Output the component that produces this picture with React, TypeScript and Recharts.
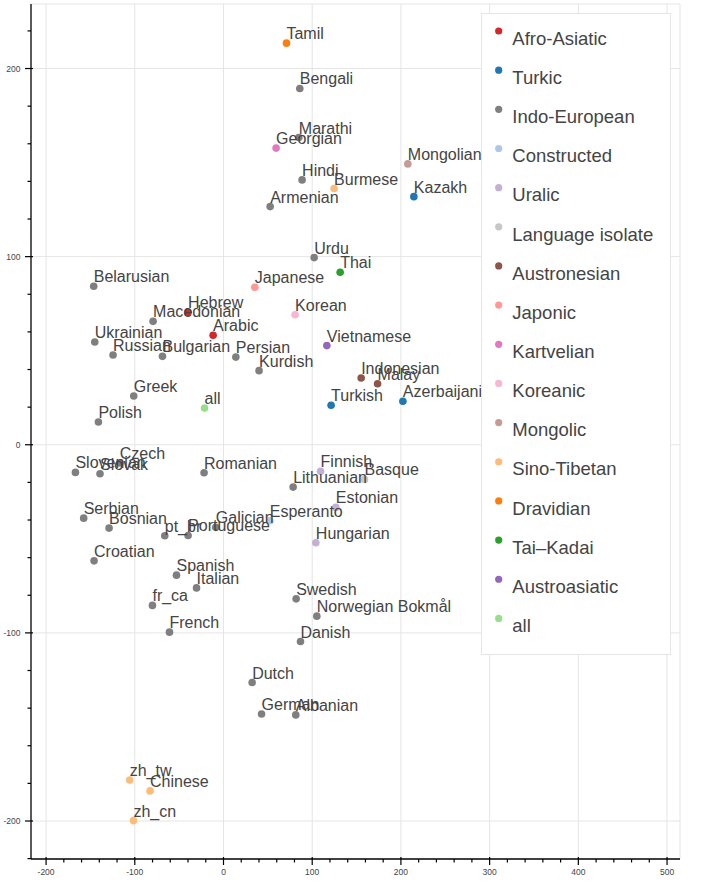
import {
  ScatterChart, Scatter, XAxis, YAxis, CartesianGrid, Legend, ReferenceLine,
} from 'recharts'

// ---------------------------------------------------------------------------
// Data (language embeddings, 2-D projection)
// ---------------------------------------------------------------------------

type Lang = { name: string; x: number; y: number }

const AFRO_ASIATIC: Lang[] = [
  { name: 'Hebrew', x: -39.9, y: 70.4 },
  { name: 'Arabic', x: -11.7, y: 58.2 },
]

const TURKIC: Lang[] = [
  { name: 'Kazakh', x: 214.6, y: 131.9 },
  { name: 'Turkish', x: 121.3, y: 21.0 },
  { name: 'Azerbaijani', x: 202.2, y: 23.1 },
]

const INDO_EUROPEAN: Lang[] = [
  { name: 'Bengali', x: 86.0, y: 189.4 },
  { name: 'Marathi', x: 84.9, y: 163.3 },
  { name: 'Hindi', x: 88.6, y: 140.8 },
  { name: 'Armenian', x: 52.6, y: 126.6 },
  { name: 'Urdu', x: 102.2, y: 99.5 },
  { name: 'Belarusian', x: -146.3, y: 84.3 },
  { name: 'Macedonian', x: -79.4, y: 65.6 },
  { name: 'Ukrainian', x: -145.1, y: 54.6 },
  { name: 'Russian', x: -124.5, y: 47.7 },
  { name: 'Bulgarian', x: -68.8, y: 47.0 },
  { name: 'Persian', x: 13.9, y: 46.6 },
  { name: 'Kurdish', x: 40.1, y: 39.4 },
  { name: 'Greek', x: -101.2, y: 25.9 },
  { name: 'Polish', x: -141.0, y: 12.1 },
  { name: 'Slovenian', x: -166.9, y: -14.7 },
  { name: 'Slovak', x: -139.2, y: -15.4 },
  { name: 'Czech', x: -117.0, y: -9.7 },
  { name: 'Romanian', x: -21.9, y: -14.9 },
  { name: 'Lithuanian', x: 78.5, y: -22.5 },
  { name: 'Serbian', x: -157.6, y: -39.0 },
  { name: 'Bosnian', x: -129.0, y: -44.3 },
  { name: 'Galician', x: -8.7, y: -43.9 },
  { name: 'pt_br', x: -66.2, y: -48.4 },
  { name: 'Portuguese', x: -39.9, y: -48.2 },
  { name: 'Croatian', x: -145.9, y: -61.7 },
  { name: 'Spanish', x: -53.0, y: -69.3 },
  { name: 'Italian', x: -30.4, y: -76.1 },
  { name: 'fr_ca', x: -80.1, y: -85.4 },
  { name: 'French', x: -60.9, y: -99.6 },
  { name: 'Swedish', x: 81.9, y: -81.9 },
  { name: 'Norwegian Bokmål', x: 105.2, y: -91.1 },
  { name: 'Danish', x: 86.8, y: -104.6 },
  { name: 'Dutch', x: 32.3, y: -126.4 },
  { name: 'German', x: 42.9, y: -143.1 },
  { name: 'Albanian', x: 81.5, y: -143.6 },
]

const CONSTRUCTED: Lang[] = [{ name: 'Esperanto', x: 52.2, y: -40.4 }]

const URALIC: Lang[] = [
  { name: 'Finnish', x: 109.4, y: -14.1 },
  { name: 'Estonian', x: 126.6, y: -33.3 },
  { name: 'Hungarian', x: 104.1, y: -52.1 },
]

const ISOLATE: Lang[] = [{ name: 'Basque', x: 159.0, y: -18.4 }]

const AUSTRONESIAN: Lang[] = [
  { name: 'Indonesian', x: 155.2, y: 35.5 },
  { name: 'Malay', x: 173.7, y: 32.4 },
]

const JAPONIC: Lang[] = [{ name: 'Japanese', x: 35.3, y: 83.7 }]
const KARTVELIAN: Lang[] = [{ name: 'Georgian', x: 59.3, y: 157.7 }]
const KOREANIC: Lang[] = [{ name: 'Korean', x: 80.7, y: 69.1 }]
const MONGOLIC: Lang[] = [{ name: 'Mongolian', x: 207.8, y: 149.3 }]

const SINO_TIBETAN: Lang[] = [
  { name: 'Burmese', x: 124.7, y: 136.2 },
  { name: 'zh_tw', x: -105.7, y: -178.2 },
  { name: 'Chinese', x: -82.8, y: -184.0 },
  { name: 'zh_cn', x: -101.5, y: -199.8 },
]

const DRAVIDIAN: Lang[] = [{ name: 'Tamil', x: 71.0, y: 213.5 }]
const TAI_KADAI: Lang[] = [{ name: 'Thai', x: 131.5, y: 91.7 }]
const AUSTROASIATIC: Lang[] = [{ name: 'Vietnamese', x: 116.5, y: 52.7 }]
const ALL: Lang[] = [{ name: 'all', x: -21.4, y: 19.5 }]

const FAMILIES = [
  'Afro-Asiatic', 'Turkic', 'Indo-European', 'Constructed', 'Uralic',
  'Language isolate', 'Austronesian', 'Japonic', 'Kartvelian', 'Koreanic',
  'Mongolic', 'Sino-Tibetan', 'Dravidian', 'Tai–Kadai', 'Austroasiatic', 'all',
]

const FAMILY_DATA = [
  AFRO_ASIATIC, TURKIC, INDO_EUROPEAN, CONSTRUCTED, URALIC,
  ISOLATE, AUSTRONESIAN, JAPONIC, KARTVELIAN, KOREANIC,
  MONGOLIC, SINO_TIBETAN, DRAVIDIAN, TAI_KADAI, AUSTROASIATIC, ALL,
]

// Category20
const FAMILY_COLORS = [
  '#d62728', '#1f77b4', '#7f7f7f', '#aec7e8', '#c5b0d5',
  '#c7c7c7', '#8c564b', '#ff9896', '#e377c2', '#f7b6d2',
  '#c49c94', '#ffbb78', '#ff7f0e', '#2ca02c', '#9467bd', '#98df8a',
]

// ---------------------------------------------------------------------------
// Axes
// ---------------------------------------------------------------------------

const X_MIN = -217
const X_MAX = 514.6
const Y_MIN = -220.2
const Y_MAX = 234.3

const X_MAJOR = [-200, -100, 0, 100, 200, 300, 400, 500]
const Y_MAJOR = [-200, -100, 0, 100, 200]

const X_TICKS = [
  -200, -180, -160, -140, -120, -100, -80, -60, -40, -20,
  0, 20, 40, 60, 80, 100, 120, 140, 160, 180,
  200, 220, 240, 260, 280, 300, 320, 340, 360, 380,
  400, 420, 440, 460, 480, 500,
]
const Y_TICKS = [
  -220, -200, -180, -160, -140, -120, -100, -80, -60, -40, -20,
  0, 20, 40, 60, 80, 100, 120, 140, 160, 180, 200, 220,
]

const FONT = '"Liberation Sans", Arial, Helvetica, sans-serif'
const TEXT = '#444444'
const GRID = '#e5e5e5'

function XTick(props: any) {
  const { x, y, payload } = props
  const major = X_MAJOR.includes(payload.value)
  return (
    <g>
      <line x1={x} x2={x} y1={y - (major ? 2 : 0)} y2={y + (major ? 6 : 3.5)} stroke="#000" strokeWidth={1.2} />
      {major && (
        <text x={x} y={y + 16.3} textAnchor="middle" fontSize={8.5} fill={TEXT} fontFamily={FONT}>
          {payload.value}
        </text>
      )}
    </g>
  )
}

function YTick(props: any) {
  const { x, y, payload } = props
  const major = Y_MAJOR.includes(payload.value)
  return (
    <g>
      <line x1={x + (major ? 2 : 0)} x2={x - (major ? 6 : 3.5)} y1={y} y2={y} stroke="#000" strokeWidth={1.2} />
      {major && (
        <text x={x - 10.5} y={y + 3} textAnchor="end" fontSize={8.5} fill={TEXT} fontFamily={FONT}>
          {payload.value}
        </text>
      )}
    </g>
  )
}

// ---------------------------------------------------------------------------
// Legend
// ---------------------------------------------------------------------------

function FamilyLegend() {
  return (
    <div style={{ width: 190, height: 642, boxSizing: 'border-box', border: `1px solid ${GRID}`, background: '#fff' }}>
      <svg width={188} height={640} style={{ display: 'block' }}>
        {FAMILIES.map((f, i) => (
          <g key={f}>
            <circle cx={16.7} cy={17 + i * 39.16} r={3.6} fill={FAMILY_COLORS[i]} />
            <text x={30.3} y={30.7 + i * 39.16} fontSize={18.5} fill={TEXT} fontFamily={FONT}>{f}</text>
          </g>
        ))}
      </svg>
    </div>
  )
}

// ---------------------------------------------------------------------------
// Component
// ---------------------------------------------------------------------------

export default function App() {
  const labelled = FAMILY_DATA.flat()

  return (
    <div style={{ position: 'absolute', left: 0, top: 0, width: 706, height: 882, background: '#fff', fontFamily: FONT }}>
      <ScatterChart width={706} height={882} margin={{ top: 4, right: 26, bottom: 0, left: 0 }}>
        <CartesianGrid stroke={GRID} verticalValues={X_MAJOR} horizontalValues={Y_MAJOR} />
        <XAxis
          type="number" dataKey="x" domain={[X_MIN, X_MAX]} allowDataOverflow
          ticks={X_TICKS} interval={0} tickSize={0} tickMargin={0} tickLine={false}
          tick={(p: any) => <XTick {...p} />} axisLine={{ stroke: '#000', strokeWidth: 1.3 }} height={23}
        />
        <YAxis
          type="number" dataKey="y" domain={[Y_MIN, Y_MAX]} allowDataOverflow
          ticks={Y_TICKS} interval={0} tickSize={0} tickMargin={0} tickLine={false}
          tick={(p: any) => <YTick {...p} />} axisLine={{ stroke: '#000', strokeWidth: 1.3 }} width={31}
        />
        <ReferenceLine y={Y_MAX} stroke={GRID} />
        <ReferenceLine x={X_MAX} stroke={GRID} />
        {FAMILY_DATA.map((data, i) => (
          <Scatter
            key={FAMILIES[i]}
            name={FAMILIES[i]}
            data={data}
            fill={FAMILY_COLORS[i]}
            isAnimationActive={false}
            shape={(p: any) => <circle cx={p.cx} cy={p.cy} r={3.8} fill={FAMILY_COLORS[i]} />}
          />
        ))}
        {/* labels on top of every point */}
        <Scatter
          name="labels"
          data={labelled}
          legendType="none"
          isAnimationActive={false}
          shape={(p: any) => (
            <text x={p.cx} y={p.cy - 4} fontSize={16} fill={TEXT} fontFamily={FONT}>
              {p.payload?.name}
            </text>
          )}
        />
        <Legend
          layout="vertical" align="center" verticalAlign="middle"
          wrapperStyle={{ left: 481, top: 13, width: 190, height: 642 }}
          content={() => <FamilyLegend />}
        />
      </ScatterChart>
    </div>
  )
}
